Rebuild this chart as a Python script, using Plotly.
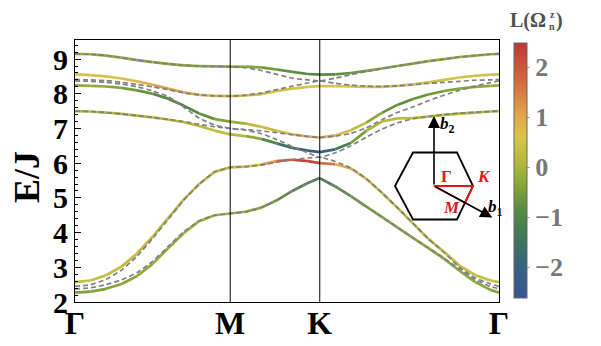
import plotly.graph_objects as go
from plotly.colors import sample_colorscale

# path Γ -> M -> K -> Γ, in units of |ΓM|
sym_k = [0, 1.0, 1.577, 2.732]
sym_labels = ['Γ', 'M', 'K', 'Γ']

k = [0, 0.1, 0.2, 0.3, 0.4, 0.5, 0.6, 0.7, 0.8, 0.9, 1.0,
     1.1, 1.2, 1.3, 1.4, 1.5, 1.577,
     1.677, 1.777, 1.877, 1.977, 2.077, 2.177, 2.277, 2.377, 2.477, 2.577, 2.677, 2.732]

# bands with DMI (solid, coloured by L(Omega))
b1 = [2.27, 2.3, 2.38, 2.52, 2.75, 3.1, 3.55, 3.98, 4.33, 4.5, 4.55,
      4.6, 4.72, 4.93, 5.2, 5.43, 5.57,
      5.33, 5.05, 4.75, 4.45, 4.15, 3.85, 3.55, 3.25, 2.9, 2.58, 2.35, 2.27]
b2 = [2.57, 2.62, 2.77, 3.02, 3.4, 3.88, 4.42, 4.95, 5.4, 5.75, 5.88,
      5.9, 5.96, 6.06, 6.1, 6.06, 6.0,
      5.97, 5.85, 5.55, 5.15, 4.72, 4.27, 3.82, 3.45, 3.05, 2.78, 2.62, 2.57]
b3 = [7.5, 7.49, 7.46, 7.42, 7.37, 7.32, 7.26, 7.18, 7.07, 6.94, 6.83,
      6.78, 6.7, 6.57, 6.44, 6.36, 6.32,
      6.4, 6.58, 6.93, 7.2, 7.29, 7.3, 7.34, 7.39, 7.43, 7.46, 7.49, 7.5]
b4 = [8.24, 8.23, 8.21, 8.17, 8.1, 8.0, 7.86, 7.66, 7.43, 7.27, 7.2,
      7.14, 7.05, 6.93, 6.83, 6.77, 6.74,
      6.8, 6.95, 7.17, 7.45, 7.68, 7.85, 7.98, 8.08, 8.15, 8.2, 8.23, 8.24]
b5 = [8.56, 8.54, 8.5, 8.44, 8.36, 8.26, 8.15, 8.04, 7.97, 7.94, 7.93,
      7.95, 7.99, 8.08, 8.15, 8.2, 8.22,
      8.22, 8.21, 8.2, 8.2, 8.23, 8.27, 8.33, 8.4, 8.47, 8.52, 8.55, 8.56]
b6 = [9.15, 9.14, 9.1, 9.04, 8.97, 8.91, 8.86, 8.82, 8.8, 8.79, 8.78,
      8.78, 8.76, 8.7, 8.63, 8.57, 8.55,
      8.56, 8.6, 8.66, 8.73, 8.8, 8.87, 8.94, 9.0, 9.06, 9.1, 9.14, 9.15]

# L(Omega_n^z) along each band
c1 = [-0.45, -0.45, -0.4, -0.35, -0.3, -0.25, -0.2, -0.15, -0.1, -0.05, -0.05,
      -0.2, -0.4, -0.6, -0.9, -1.2, -1.4,
      -1.0, -0.7, -0.5, -0.4, -0.35, -0.3, -0.3, -0.3, -0.3, -0.35, -0.4, -0.45]
c2 = [0.3, 0.3, 0.3, 0.25, 0.2, 0.2, 0.2, 0.2, 0.25, 0.3, 0.3,
      0.4, 0.8, 1.6, 2.2, 2.3, 2.1,
      1.2, 0.6, 0.4, 0.3, 0.25, 0.2, 0.2, 0.2, 0.25, 0.3, 0.3, 0.3]
c3 = [0.1, 0.1, 0.1, 0.1, 0.1, 0.15, 0.2, 0.2, 0.2, 0.2, 0.2,
      0.0, -0.6, -1.2, -1.8, -2.2, -2.3,
      -1.6, -0.9, -0.1, 0.15, 0.2, 0.2, 0.15, 0.1, 0.1, 0.1, 0.1, 0.1]
c4 = [-0.2, -0.25, -0.3, -0.45, -0.6, -0.85, -1.0, -1.0, -0.85, -0.6, -0.3,
      0.0, 0.3, 0.5, 0.8, 0.95, 1.0,
      0.9, 0.6, 0.0, -0.6, -0.8, -0.75, -0.6, -0.5, -0.4, -0.3, -0.25, -0.2]
c5 = [0.5, 0.5, 0.55, 0.65, 0.8, 1.0, 1.2, 1.0, 0.7, 0.45, 0.35,
      0.35, 0.4, 0.45, 0.5, 0.55, 0.6,
      0.6, 0.55, 0.5, 0.5, 0.5, 0.5, 0.5, 0.5, 0.5, 0.5, 0.5, 0.5]
c6 = [-0.2, -0.2, -0.22, -0.25, -0.28, -0.3, -0.3, -0.3, -0.3, -0.3, -0.3,
      -0.35, -0.5, -0.65, -0.8, -0.9, -0.9,
      -0.8, -0.65, -0.5, -0.4, -0.35, -0.3, -0.25, -0.22, -0.2, -0.2, -0.2, -0.2]

# bands without DMI (dashed gray)
d1 = [2.38, 2.41, 2.5, 2.64, 2.85, 3.17, 3.6, 4.02, 4.34, 4.5, 4.55,
      4.6, 4.72, 4.93, 5.2, 5.43, 5.57,
      5.33, 5.05, 4.75, 4.45, 4.15, 3.85, 3.56, 3.27, 2.95, 2.65, 2.45, 2.38]
d2 = [2.45, 2.5, 2.65, 2.92, 3.32, 3.83, 4.38, 4.93, 5.39, 5.75, 5.88,
      5.9, 5.95, 6.03, 6.1, 6.15, 6.17,
      6.05, 5.86, 5.55, 5.15, 4.72, 4.27, 3.82, 3.43, 3.0, 2.7, 2.52, 2.45]
d3 = [7.5, 7.49, 7.46, 7.42, 7.37, 7.32, 7.26, 7.2, 7.12, 7.05, 7.0,
      6.95, 6.85, 6.68, 6.48, 6.3, 6.17,
      6.3, 6.5, 6.75, 6.98, 7.16, 7.28, 7.35, 7.4, 7.44, 7.47, 7.49, 7.5]
d4 = [8.37, 8.36, 8.33, 8.28, 8.2, 8.08, 7.92, 7.62, 7.3, 7.1, 7.0,
      6.97, 6.93, 6.88, 6.82, 6.77, 6.74,
      6.78, 6.86, 7.02, 7.25, 7.46, 7.62, 7.8, 7.96, 8.1, 8.22, 8.32, 8.37]
d5 = [8.41, 8.4, 8.38, 8.33, 8.27, 8.2, 8.12, 8.03, 7.97, 7.94, 7.93,
      7.96, 8.02, 8.12, 8.22, 8.31, 8.37,
      8.3, 8.25, 8.22, 8.21, 8.23, 8.26, 8.3, 8.33, 8.36, 8.39, 8.4, 8.41]
d6 = [9.15, 9.14, 9.1, 9.04, 8.97, 8.91, 8.86, 8.82, 8.8, 8.79, 8.78,
      8.75, 8.67, 8.56, 8.45, 8.4, 8.37,
      8.45, 8.55, 8.64, 8.72, 8.8, 8.87, 8.94, 9.0, 9.06, 9.1, 9.14, 9.15]

cb_ticks = [-2, -1, 0, 1, 2]
cb_text = ['−2', '−1', '0', '1', '2']
cmin, cmax = -2.62, 2.48

dark_rainbow = [[0.0, 'rgb(58,84,150)'], [0.12, 'rgb(56,98,125)'],
                [0.25, 'rgb(67,120,86)'], [0.35, 'rgb(88,140,64)'],
                [0.45, 'rgb(138,168,58)'], [0.55, 'rgb(188,188,62)'],
                [0.63, 'rgb(217,196,75)'], [0.72, 'rgb(226,165,75)'],
                [0.85, 'rgb(210,105,65)'], [1.0, 'rgb(190,55,55)']]

SERIF = 'Liberation Serif'
OFF = 8  # page body margin of the browser
W, H = 601 - OFF, 346 - OFF
ML, MR, MT, MB = 75 - OFF, 102, 40 - OFF, 44
PW, PH = W - ML - MR, H - MT - MB


def px(x):  # screen pixel -> paper x
    return (x - OFF - ML) / PW


def py(y):  # screen pixel -> paper y
    return (H + OFF - MB - y) / PH


fig = go.Figure()

# coloured bands, one short segment at a time
for band, col in [(b1, c1), (b2, c2), (b3, c3), (b4, c4), (b5, c5), (b6, c6)]:
    for i in range(len(k) - 1):
        v = (col[i] + col[i + 1]) / 2
        clr = sample_colorscale(dark_rainbow, [(v - cmin) / (cmax - cmin)])[0]
        fig.add_trace(go.Scatter(x=k[i:i + 2], y=band[i:i + 2], mode='lines',
                                 line=dict(color=clr, width=2.7), hoverinfo='skip'))

for band in [d1, d2, d3, d4, d5, d6]:
    fig.add_trace(go.Scatter(x=k, y=band, mode='lines',
                             line=dict(color='#808080', width=1.7, dash='5px,3px',
                                       shape='spline', smoothing=0.5)))

# colour bar carrier
fig.add_trace(go.Scatter(x=[k[0]], y=[b1[0]], mode='markers',
                         marker=dict(size=0.1, color=[0], colorscale=dark_rainbow,
                                     cmin=cmin, cmax=cmax, showscale=True,
                                     colorbar=dict(x=px(514), xanchor='left', xpad=0,
                                                   y=py(170.5), yanchor='middle', ypad=0,
                                                   len=(298 - 43) / PH, thickness=13,
                                                   outlinewidth=1, outlinecolor='#666',
                                                   tickvals=cb_ticks, ticktext=cb_text,
                                                   ticks='outside', ticklen=3, tickcolor='#aaa',
                                                   tickfont=dict(family=SERIF, size=26,
                                                                 color='#777', weight='bold')))))

for xv in sym_k[1:3]:
    fig.add_vline(x=xv, line=dict(color='black', width=1))

# Brillouin zone inset
cx, cy = 434, 186
hexv = [(395, 186), (413, 152.5), (457, 152.5), (473, 186), (457, 219.5), (413, 219.5)]
path = 'M ' + ' L '.join(f'{px(a):.4f},{py(b):.4f}' for a, b in hexv) + ' Z'
fig.add_shape(type='path', path=path, xref='paper', yref='paper',
              line=dict(color='black', width=1.8))
mx, my = (473 + 457) / 2, (186 + 219.5) / 2
red = f'M {px(cx):.4f},{py(cy):.4f} L {px(473):.4f},{py(186):.4f} L {px(mx):.4f},{py(my):.4f} Z'
fig.add_shape(type='path', path=red, xref='paper', yref='paper',
              line=dict(color='#e8141c', width=1.8))

tip1 = (cx + 1.88 * (mx - cx), cy + 1.88 * (my - cy))
tip2 = (cx, 116)
for tx, ty in [tip1, tip2]:
    fig.add_annotation(x=px(tx), y=py(ty), xref='paper', yref='paper', text='',
                       showarrow=True, ax=cx - tx, ay=cy - ty, arrowhead=2,
                       arrowsize=1.5, arrowwidth=1.6, arrowcolor='black', standoff=0)


def label(txt, lx, ly, size, color, angle=0):
    fig.add_annotation(x=px(lx), y=py(ly), xref='paper', yref='paper', text=txt,
                       xanchor='center', yanchor='middle', textangle=angle,
                       showarrow=False, borderpad=0,
                       font=dict(family=SERIF, size=size, color=color))


label('<b><i>b</i><sub>2</sub></b>', 447, 125, 17, 'black')
label('<b><i>b</i><sub>1</sub></b>', 495, 208, 17, 'black')
label('<b>Γ</b>', 446, 177, 17, '#e8141c')
label('<b><i>K</i></b>', 484, 177, 17, '#e8141c')
label('<b><i>M</i></b>', 451, 207, 17, '#e8141c')

# axis title and colour bar title
label('<b>E/J</b>', 27, 177, 36, 'black', angle=-90)
label('<b>L(Ω</b>', 528, 20, 20, '#505050')
label('<b>z</b>', 552, 15, 10, '#505050')
label('<b>n</b>', 552, 26, 10, '#505050')
label('<b>)</b>', 559, 20, 20, '#505050')

fig.update_layout(width=W, height=H, margin=dict(l=ML, r=MR, t=MT, b=MB, autoexpand=False),
                  plot_bgcolor='white', paper_bgcolor='white', showlegend=False,
                  xaxis=dict(range=[0, sym_k[-1]], tickvals=sym_k, ticktext=sym_labels,
                             ticks='', showgrid=False, zeroline=False, ticklabelstandoff=-7,
                             showline=True, linecolor='black', linewidth=1, mirror=True,
                             tickfont=dict(family=SERIF, size=32, color='black', weight='bold')),
                  yaxis=dict(range=[2, 9.55], tick0=2, dtick=1, ticks='inside', ticklen=6,
                             tickcolor='black', minor=dict(dtick=0.2, ticks='inside', ticklen=3,
                                                           tickcolor='black'),
                             showgrid=False, zeroline=False,
                             showline=True, linecolor='black', linewidth=1, mirror=True,
                             tickfont=dict(family=SERIF, size=30, color='black', weight='bold')))

fig.write_html("out.html")
